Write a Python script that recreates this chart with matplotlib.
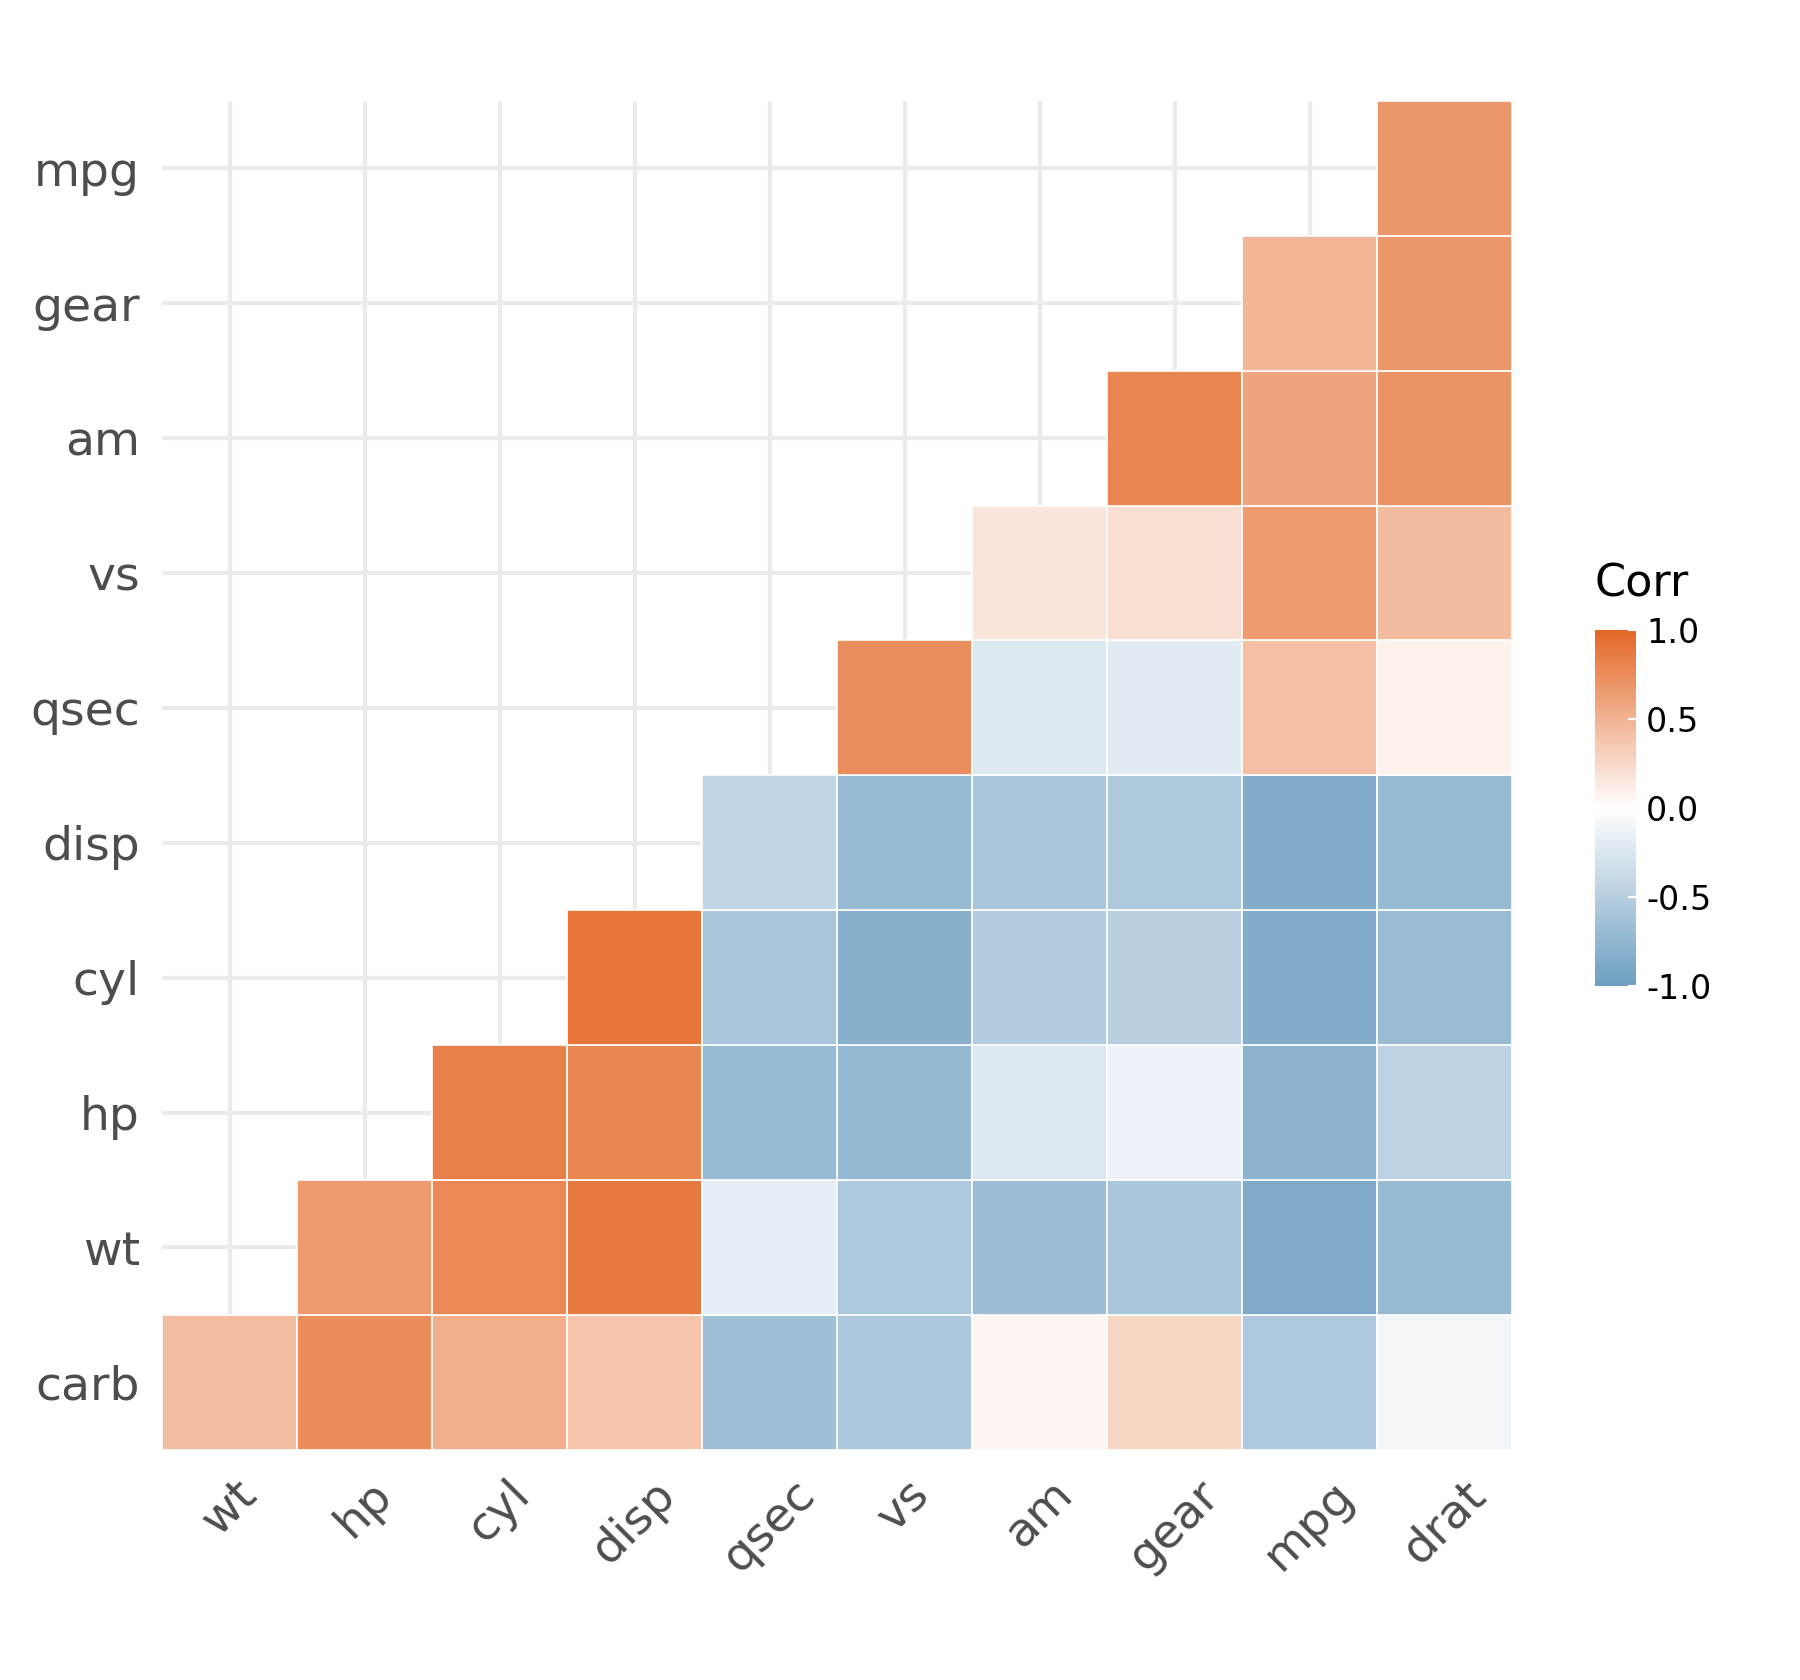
import numpy as np
import matplotlib.pyplot as plt
from matplotlib.colors import LinearSegmentedColormap, Normalize
from matplotlib.cm import ScalarMappable

xlabels = ["wt","hp","cyl","disp","qsec","vs","am","gear","mpg","drat"]
ylabels = ["carb","wt","hp","cyl","disp","qsec","vs","am","gear","mpg"]
# row values (bottom to top), starting at column index = row index
rows = {
 "carb": [0.43,0.75,0.53,0.39,-0.66,-0.57,0.06,0.27,-0.55,-0.09],
 "wt":   [0.66,0.78,0.89,-0.17,-0.55,-0.69,-0.58,-0.87,-0.71],
 "hp":   [0.83,0.79,-0.71,-0.72,-0.24,-0.13,-0.78,-0.45],
 "cyl":  [0.90,-0.59,-0.81,-0.52,-0.49,-0.85,-0.70],
 "disp": [-0.43,-0.71,-0.59,-0.56,-0.85,-0.71],
 "qsec": [0.74,-0.23,-0.21,0.42,0.09],
 "vs":   [0.17,0.21,0.66,0.44],
 "am":   [0.79,0.60,0.71],
 "gear": [0.48,0.68],
 "mpg":  [0.68],
}

cmap = LinearSegmentedColormap.from_list("c", ["#6D9EC1","#FFFFFF","#E46726"])
norm = Normalize(-1, 1)

fig = plt.figure(figsize=(9, 8.4), dpi=200)
ax = fig.add_axes([0.09, 0.137, 0.75, 0.803])
for i, name in enumerate(ylabels):
    vals = rows[name]
    for k, v in enumerate(vals):
        j = i + k
        ax.add_patch(plt.Rectangle((j-0.5, i-0.5), 1, 1, facecolor=cmap(norm(v)),
                                   edgecolor="white", linewidth=0.6, zorder=2))
ax.set_xlim(-0.6, 9.5)
ax.set_ylim(-0.5, 9.6)
ax.set_xlim(-0.5, 9.5); ax.set_ylim(-0.5, 9.5)
ax.set_xticks(range(10)); ax.set_xticklabels(xlabels, rotation=45, fontsize=17, color="#4D4D4D")
ax.set_yticks(range(10)); ax.set_yticklabels(ylabels, fontsize=17, color="#4D4D4D")
ax.grid(True, color="#EBEBEB", linewidth=1.5, zorder=0)
ax.set_axisbelow(True)
ax.tick_params(length=0, pad=8)
for s in ax.spines.values(): s.set_visible(False)
ax.margins(0)
ax.set_clip_on(False)

cax = fig.add_axes([0.886, 0.413, 0.023, 0.212])
cb = fig.colorbar(ScalarMappable(norm=norm, cmap=cmap), cax=cax, ticks=[-1,-0.5,0,0.5,1])
cb.ax.set_yticklabels(["-1.0","-0.5","0.0","0.5","1.0"], fontsize=12)
cb.outline.set_visible(False)
cb.ax.tick_params(length=3, color="white", direction="in")
fig.text(0.886, 0.645, "Corr", fontsize=16)
fig.savefig("out.png")
